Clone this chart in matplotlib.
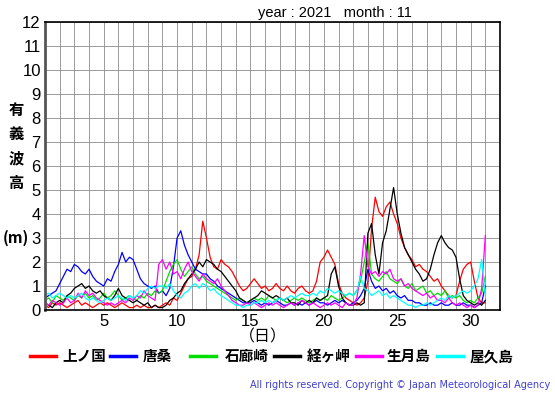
import numpy as np
import matplotlib.pyplot as plt
from matplotlib.lines import Line2D

# 6-hourly significant wave height (m), Nov 2021, day 1.00 .. 31.00
days = np.arange(1, 31.01, 0.25)

kaminokuni = [0.2, 0.1, 0.3, 0.2, 0.3, 0.2, 0.1, 0.2, 0.3, 0.4, 0.2, 0.3,
              0.2, 0.1, 0.2, 0.3, 0.2, 0.3, 0.2, 0.1, 0.2, 0.3, 0.2, 0.1,
              0.1, 0.2, 0.1, 0.2, 0.1, 0.1, 0.2, 0.1, 0.2, 0.3, 0.2, 0.5,
              0.4, 0.7, 1.0, 1.3, 1.4, 1.7, 2.3, 3.7, 3.0, 2.2, 1.8, 1.7,
              2.1, 1.9, 1.8, 1.6, 1.3, 1.0, 0.8, 0.9, 1.1, 1.3, 1.1, 0.9,
              1.0, 0.8, 0.9, 1.1, 0.9, 0.8, 1.0, 0.8, 0.7, 0.9, 1.0, 0.8,
              0.7, 0.8, 1.2, 2.0, 2.2, 2.5, 2.2, 1.9, 1.1, 0.7, 0.5, 0.4,
              0.3, 0.2, 0.3, 0.5, 1.2, 3.4, 4.7, 4.1, 3.9, 4.3, 4.5, 4.0,
              3.6, 3.0, 2.6, 2.3, 2.1, 1.8, 1.9, 1.7, 1.6, 1.4, 1.2, 1.3,
              1.0, 0.8, 0.6, 0.5, 0.6, 1.2, 1.7, 1.9, 2.0, 1.2, 0.5, 0.3,
              0.3]
karakuwa = [0.5, 0.6, 0.7, 0.8, 1.1, 1.4, 1.7, 1.6, 1.9, 1.8, 1.6, 1.5,
            1.7, 1.4, 1.2, 1.1, 1.0, 1.3, 1.2, 1.6, 1.9, 2.4, 2.0, 2.2,
            2.1, 1.7, 1.3, 1.1, 1.0, 0.9, 1.0, 0.7, 0.8, 0.6, 0.9, 1.8,
            3.0, 3.3, 2.7, 2.3, 2.0, 1.7, 1.6, 1.5, 1.5, 1.3, 1.2, 1.0,
            0.9, 0.8, 0.7, 0.6, 0.5, 0.4, 0.3, 0.3, 0.3, 0.4, 0.3, 0.2,
            0.3, 0.2, 0.3, 0.4, 0.3, 0.2, 0.2, 0.3, 0.2, 0.3, 0.2, 0.3,
            0.2, 0.3, 0.4, 0.3, 0.3, 0.2, 0.3, 0.4, 0.3, 0.4, 0.3, 0.2,
            0.3, 0.4, 0.6, 0.9, 1.7, 1.2, 0.9, 1.0, 0.8, 0.9, 0.7, 0.8,
            0.6, 0.5, 0.6, 0.4, 0.4, 0.3, 0.3, 0.2, 0.2, 0.3, 0.2, 0.2,
            0.3, 0.2, 0.2, 0.3, 0.2, 0.2, 0.3, 0.2, 0.2, 0.1, 0.2, 0.3,
            1.0]
irozaki = [0.4, 0.5, 0.3, 0.6, 0.5, 0.4, 0.6, 0.5, 0.4, 0.6, 0.5, 0.7,
           0.5, 0.6, 0.4, 0.5, 0.7, 0.5, 0.6, 0.8, 0.6, 0.4, 0.5, 0.6,
           0.5, 0.4, 0.6, 0.5, 0.7, 0.6, 0.8, 0.7, 0.8, 1.2, 1.6, 1.9,
           2.1, 1.7, 1.4, 1.6, 1.8, 1.5, 1.3, 1.4, 1.2, 1.1, 1.0, 0.9,
           0.8, 0.7, 0.6, 0.5, 0.4, 0.5, 0.4, 0.3, 0.4, 0.5, 0.4, 0.5,
           0.4, 0.6, 0.5, 0.4, 0.5, 0.4, 0.3, 0.4, 0.5, 0.4, 0.5, 0.4,
           0.3, 0.4, 0.5, 0.4, 0.5, 0.4, 0.6, 0.5, 0.4, 0.5, 0.6, 0.7,
           0.6, 0.8, 1.2, 2.0, 2.8, 1.5, 1.3, 1.2, 1.4, 1.6, 1.3, 1.2,
           1.1, 1.3, 1.0, 0.9, 1.1, 0.8, 0.9, 1.0, 0.7, 0.8, 0.6, 0.7,
           0.6, 0.8, 0.5, 0.6, 0.5, 0.6, 0.4, 0.3, 0.4, 0.3, 0.5, 0.7,
           1.4]
kyogamisaki = [0.3, 0.2, 0.1, 0.3, 0.4, 0.3, 0.6, 0.7, 0.9, 1.0, 1.1, 0.9,
               1.0, 0.8, 0.7, 0.8, 0.6, 0.5, 0.4, 0.6, 0.9, 0.6, 0.5, 0.4,
               0.3, 0.4, 0.3, 0.2, 0.3, 0.1, 0.2, 0.1, 0.1, 0.2, 0.4, 0.5,
               0.7, 0.8, 1.1, 1.3, 1.5, 1.7, 2.0, 1.8, 2.1, 2.0, 1.9, 1.7,
               1.6, 1.4, 1.2, 1.0, 0.8, 0.5, 0.4, 0.3, 0.4, 0.5, 0.6, 0.8,
               0.7, 0.6, 0.5, 0.6, 0.5, 0.4, 0.5, 0.3, 0.3, 0.2, 0.4, 0.3,
               0.4, 0.3, 0.5, 0.4, 0.5, 0.6, 1.5, 1.8, 1.0, 0.5, 0.3, 0.2,
               0.2, 0.3, 0.2, 0.3, 3.2, 3.6, 2.3, 1.5, 2.8, 3.3, 4.2, 5.1,
               4.0, 3.2, 2.6, 2.3, 2.0, 1.7, 1.5, 1.2, 1.3, 1.7, 2.3, 2.8,
               3.1, 2.8, 2.6, 2.5, 2.2, 1.3, 0.6, 0.4, 0.3, 0.2, 0.3, 0.2,
               0.4]
ikitsukishima = [0.3, 0.2, 0.4, 0.3, 0.2, 0.3, 0.5, 0.3, 0.4, 0.7, 0.5, 0.8,
                 0.6, 0.7, 0.5, 0.4, 0.3, 0.2, 0.3, 0.2, 0.3, 0.4, 0.3, 0.5,
                 0.4, 0.6, 0.5, 0.8, 0.6, 0.5, 0.4, 1.9, 2.1, 1.7, 2.0, 1.5,
                 1.6, 1.3, 1.7, 2.0, 1.6, 1.4, 1.2, 1.5, 1.3, 1.2, 1.1, 1.3,
                 1.0, 0.8, 0.6, 0.4, 0.3, 0.2, 0.2, 0.3, 0.2, 0.3, 0.2, 0.1,
                 0.2, 0.3, 0.2, 0.3, 0.2, 0.1, 0.2, 0.3, 0.2, 0.3, 0.4, 0.3,
                 0.2, 0.3, 0.2, 0.1, 0.2, 0.3, 0.2, 0.3, 0.2, 0.1, 0.3, 0.2,
                 0.2, 0.5, 1.5, 3.1, 1.8, 1.5, 1.6, 1.4, 1.6, 1.5, 1.7, 1.3,
                 1.2, 1.3, 1.0, 1.1, 0.9, 0.8, 0.7, 0.6, 0.7, 0.5, 0.6, 0.4,
                 0.4, 0.3, 0.5, 0.3, 0.2, 0.3, 0.2, 0.1, 0.2, 0.1, 0.2, 0.9,
                 3.1]
yakushima = [0.6, 0.7, 0.5, 0.6, 0.7, 0.6, 0.5, 0.6, 0.5, 0.6, 0.7, 0.5,
             0.4, 0.5, 0.4, 0.3, 0.4, 0.5, 0.4, 0.5, 0.6, 0.5, 0.4, 0.6,
             0.5, 0.6, 0.8, 0.7, 0.9, 1.0, 0.9, 1.0, 1.0, 0.9, 1.1, 0.8,
             0.6, 0.5, 0.7, 0.8, 1.0, 1.1, 0.9, 1.1, 1.0, 0.8, 0.9, 0.7,
             0.6, 0.5, 0.4, 0.3, 0.2, 0.2, 0.1, 0.2, 0.2, 0.3, 0.3, 0.4,
             0.3, 0.4, 0.3, 0.4, 0.5, 0.4, 0.5, 0.6, 0.5, 0.6, 0.7, 0.6,
             0.6, 0.7, 0.6, 0.8, 0.7, 0.9, 0.8, 0.7, 0.8, 0.7, 0.6, 0.7,
             0.6, 0.8, 1.4, 0.9, 0.8, 0.6, 0.7, 0.8, 0.6, 0.7, 0.5, 0.6,
             0.5, 0.4, 0.3, 0.2, 0.2, 0.1, 0.2, 0.2, 0.3, 0.2, 0.3, 0.4,
             0.5, 0.4, 0.6, 0.5, 0.6, 0.7, 0.8, 0.7, 0.8, 1.0, 1.3, 2.1,
             0.6]

names = ['上ノ国', '唐桑', '石廊崎', '経ヶ岬', '生月島', '屋久島']
colors = ['#ff0000', '#0000ff', '#00dd00', '#000000', '#ff00ff', '#00ffff']
series = [kaminokuni, karakuwa, irozaki, kyogamisaki, ikitsukishima, yakushima]

jp = ['Noto Sans CJK JP', 'DejaVu Sans']

fig = plt.figure(figsize=(5.55, 3.95), dpi=100)
ax = fig.add_axes([45 / 555, 85 / 395, 455 / 555, 288 / 395])

for vals, c in zip(series, colors):
    ax.plot(days, vals, color=c, lw=0.9)

ax.set_xlim(1, 32)
ax.set_ylim(0, 12)
ax.set_xticks(range(5, 31, 5))
ax.set_xticks(range(1, 33), minor=True)
ax.set_yticks(range(0, 13))
ax.grid(True, which='both', color='#8c8c8c', lw=0.6)
ax.tick_params(which='both', length=0, labelsize=12, pad=3)
for lab in ax.get_xticklabels() + ax.get_yticklabels():
    lab.set_family('Liberation Sans')
for s in ax.spines.values():
    s.set_linewidth(1.2)
ax.spines['left'].set_color('#555555')
ax.spines['left'].set_linewidth(2)

fig.text(335 / 555, 1 - 13 / 395, 'year : 2021   month : 11', ha='center',
         va='center', fontsize=10.5, family='Liberation Sans')

for t, y in zip(['有', '義', '波', '高', '(m)'], [110, 134, 158, 183, 238]):
    fig.text(16 / 555, 1 - y / 395, t, ha='center', va='center',
             fontsize=11, family=jp, fontweight='bold')

fig.text(263 / 555, 1 - 337 / 395, '（日）', ha='center', va='center',
         fontsize=11.5, family=jp)

line_x = [30, 110, 190, 274, 356, 437]
text_x = [62, 143, 225, 307, 387, 470]
for n, c, lx, tx in zip(names, colors, line_x, text_x):
    fig.add_artist(Line2D([lx / 555, (lx + 26) / 555], [1 - 356 / 395] * 2,
                          color=c, lw=2.5, transform=fig.transFigure))
    fig.text(tx / 555, 1 - 356 / 395, n, ha='left', va='center',
             fontsize=10.5, family=jp, fontweight='bold')

fig.text(550 / 555, 1 - 385 / 395,
         'All rights reserved. Copyright © Japan Meteorological Agency',
         ha='right', va='center', fontsize=7, color='#4040d0')

fig.savefig('out.png', dpi=100)
